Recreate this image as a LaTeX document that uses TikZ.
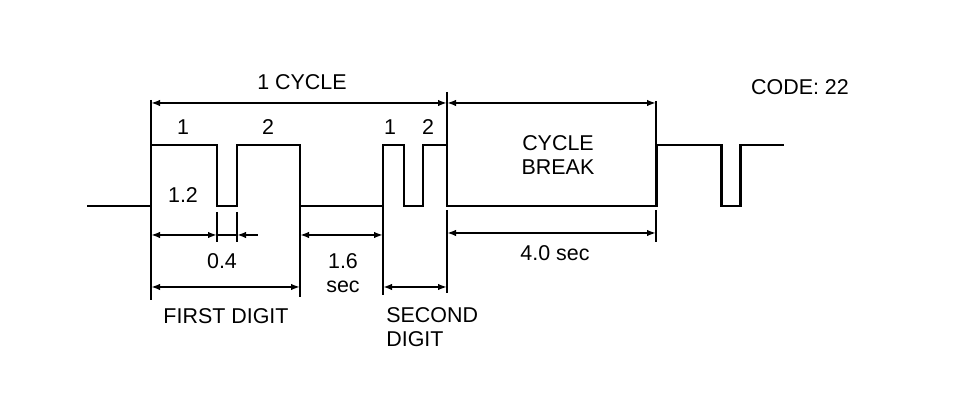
\documentclass[tikz,border=0pt]{standalone}
\usepackage{fontspec}
\setmainfont{Liberation Sans}
\usetikzlibrary{arrows.meta}

\begin{document}
\begin{tikzpicture}[x=0.02cm, y=-0.02cm,
  signal/.style={line width=1.7pt, line join=miter},
  dimline/.style={line width=1.2pt, {Latex[length=1.8mm,width=1.3mm]}-{Latex[length=1.8mm,width=1.3mm]}},
  extline/.style={line width=1.2pt},
  lbl/.style={font=\fontsize{12.2}{13.5}\selectfont, inner sep=0pt}]
\useasboundingbox (0,0) rectangle (960,408);
% pulse train:
\draw[signal] (87,206) -- (151,206) -- (151,145) -- (217,145) -- (217,206) -- (237,206) -- (237,145) -- (300,145) -- (300,206) -- (383,206) -- (383,145) -- (404,145) -- (404,206) -- (423,206) -- (423,145) -- (447,145) -- (447,206) -- (656,206) -- (656,145) -- (721,145) -- (721,206) -- (740,206) -- (740,145) -- (784,145);
% cycle marks:
\draw[extline] (151,100) -- (151,145) ;\draw[extline] (447,92) -- (447,145) ;\draw[extline] (656,101) -- (656,145) ;
\draw[dimline] (151,103) -- (447,103) ;\draw[dimline] (447,103) -- (656,103) ;
% extension lines below:
\draw[extline] (151,206) -- (151,300) ;\draw[extline] (217,212) -- (217,242) ;\draw[extline] (237,212) -- (237,242) ;
\draw[extline] (300,206) -- (300,297) ;\draw[extline] (383,206) -- (383,295) ;
\draw[extline] (447,210) -- (447,293) ;\draw[extline] (656,210) -- (656,242) ;
% time spans:
\draw[dimline] (151,235) -- (217,235) ;\draw[extline] (217,235) -- (237,235) ;\draw[dimline, {Latex[length=1.8mm,width=1.3mm]}-] (237,235) -- (258,235) ;
\draw[dimline] (300,235) -- (383,235) ;\draw[dimline] (447,233) -- (656,233) ;
\draw[dimline] (151,287) -- (300,287) ;\draw[dimline] (383,287) -- (447,287) ;
% labels:
\node[lbl] (cycle) at (302,82) {1 CYCLE};
\node[lbl] (code) at (800,87) {CODE: 22};
\node[lbl] (first1) at (183,127) {1};
\node[lbl] (first2) at (268,127) {2};
\node[lbl] (second1) at (390,127) {1};
\node[lbl] (second2) at (428,127) {2};
\node[lbl] (w12) at (183,195) {1.2};
\node[lbl] (w04) at (222,261) {0.4};
\node[lbl, align=center] (w16) at (343,273) {1.6\\sec};
\node[lbl] (firstdigit) at (226,316) {FIRST DIGIT};
\node[lbl, align=left, anchor=west] (seconddigit) at (386,327) {SECOND\\DIGIT};
\node[lbl, align=center] (break) at (558,155) {CYCLE\\BREAK};
\node[lbl] (w40) at (555,253) {4.0 sec};
\end{tikzpicture}
\end{document}
